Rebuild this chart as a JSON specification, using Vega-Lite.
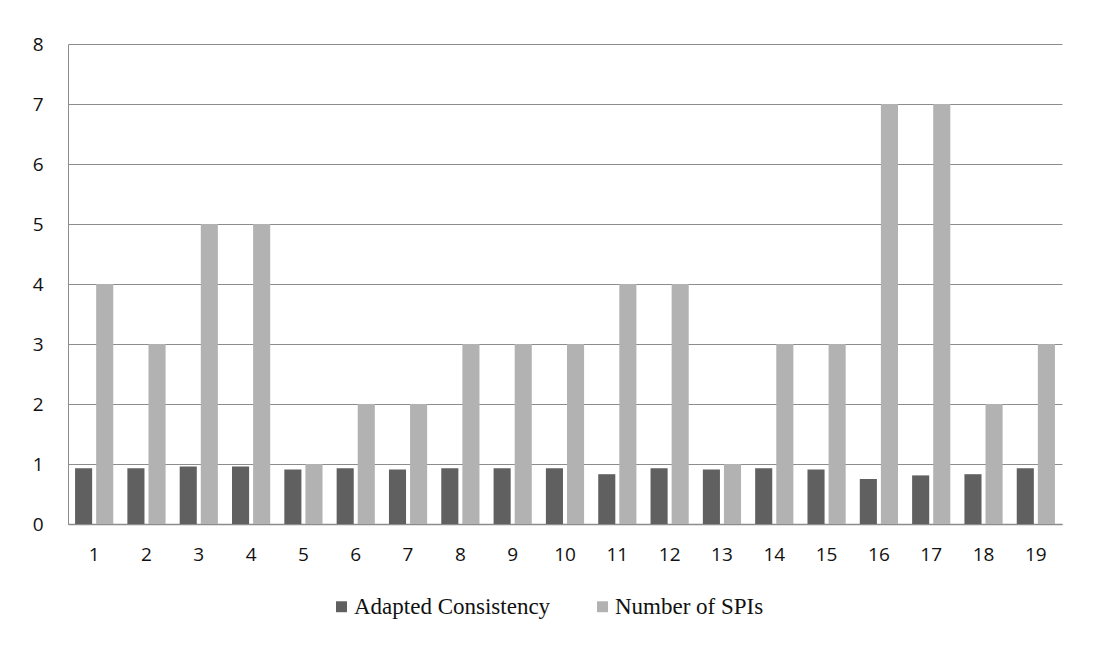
{
  "$schema": "https://vega.github.io/schema/vega-lite/v6.json",
  "autosize": "none",
  "width": 994,
  "height": 480,
  "padding": {"left": 68, "top": 44, "right": 32, "bottom": 125},
  "background": "white",
  "data": {"values": [
    {"item": 1, "series": "Adapted Consistency", "value": 0.93},
    {"item": 2, "series": "Adapted Consistency", "value": 0.93},
    {"item": 3, "series": "Adapted Consistency", "value": 0.96},
    {"item": 4, "series": "Adapted Consistency", "value": 0.96},
    {"item": 5, "series": "Adapted Consistency", "value": 0.91},
    {"item": 6, "series": "Adapted Consistency", "value": 0.93},
    {"item": 7, "series": "Adapted Consistency", "value": 0.91},
    {"item": 8, "series": "Adapted Consistency", "value": 0.93},
    {"item": 9, "series": "Adapted Consistency", "value": 0.93},
    {"item": 10, "series": "Adapted Consistency", "value": 0.93},
    {"item": 11, "series": "Adapted Consistency", "value": 0.83},
    {"item": 12, "series": "Adapted Consistency", "value": 0.93},
    {"item": 13, "series": "Adapted Consistency", "value": 0.91},
    {"item": 14, "series": "Adapted Consistency", "value": 0.93},
    {"item": 15, "series": "Adapted Consistency", "value": 0.91},
    {"item": 16, "series": "Adapted Consistency", "value": 0.75},
    {"item": 17, "series": "Adapted Consistency", "value": 0.81},
    {"item": 18, "series": "Adapted Consistency", "value": 0.83},
    {"item": 19, "series": "Adapted Consistency", "value": 0.93},
    {"item": 1, "series": "Number of SPIs", "value": 4},
    {"item": 2, "series": "Number of SPIs", "value": 3},
    {"item": 3, "series": "Number of SPIs", "value": 5},
    {"item": 4, "series": "Number of SPIs", "value": 5},
    {"item": 5, "series": "Number of SPIs", "value": 1},
    {"item": 6, "series": "Number of SPIs", "value": 2},
    {"item": 7, "series": "Number of SPIs", "value": 2},
    {"item": 8, "series": "Number of SPIs", "value": 3},
    {"item": 9, "series": "Number of SPIs", "value": 3},
    {"item": 10, "series": "Number of SPIs", "value": 3},
    {"item": 11, "series": "Number of SPIs", "value": 4},
    {"item": 12, "series": "Number of SPIs", "value": 4},
    {"item": 13, "series": "Number of SPIs", "value": 1},
    {"item": 14, "series": "Number of SPIs", "value": 3},
    {"item": 15, "series": "Number of SPIs", "value": 3},
    {"item": 16, "series": "Number of SPIs", "value": 7},
    {"item": 17, "series": "Number of SPIs", "value": 7},
    {"item": 18, "series": "Number of SPIs", "value": 2},
    {"item": 19, "series": "Number of SPIs", "value": 3}
  ]},
  "mark": {"type": "bar"},
  "encoding": {
    "x": {
      "field": "item", "type": "ordinal", "title": null,
      "scale": {"paddingInner": 0.27, "paddingOuter": 0.135},
      "axis": {"labelAngle": 0, "labelFont": "Open Sans", "labelFontSize": 19, "labelColor": "#111", "labelPadding": 21, "ticks": false, "domainColor": "#8c8c8c", "domainWidth": 1.5}
    },
    "xOffset": {"field": "series", "type": "nominal", "scale": {"paddingInner": 0.19}},
    "y": {
      "field": "value", "type": "quantitative", "title": null,
      "scale": {"domain": [0, 8], "nice": false},
      "axis": {"values": [0,1,2,3,4,5,6,7,8], "labelFont": "Open Sans", "labelFontSize": 19, "labelColor": "#111", "labelPadding": 25, "ticks": false, "domain": true, "domainColor": "#8c8c8c", "gridColor": "#8c8c8c", "gridWidth": 1}
    },
    "color": {
      "field": "series", "type": "nominal",
      "scale": {"domain": ["Adapted Consistency", "Number of SPIs"], "range": ["#606060", "#b2b2b2"]},
      "legend": {"title": null, "orient": "none", "legendX": 262, "legendY": 551, "direction": "horizontal", "symbolType": "square", "symbolSize": 120, "symbolStrokeWidth": 0, "labelFont": "Liberation Serif", "labelFontSize": 23, "labelColor": "#111", "labelLimit": 0, "columnPadding": 40, "labelOffset": 1}
    }
  },
  "config": {"view": {"stroke": null}}
}
